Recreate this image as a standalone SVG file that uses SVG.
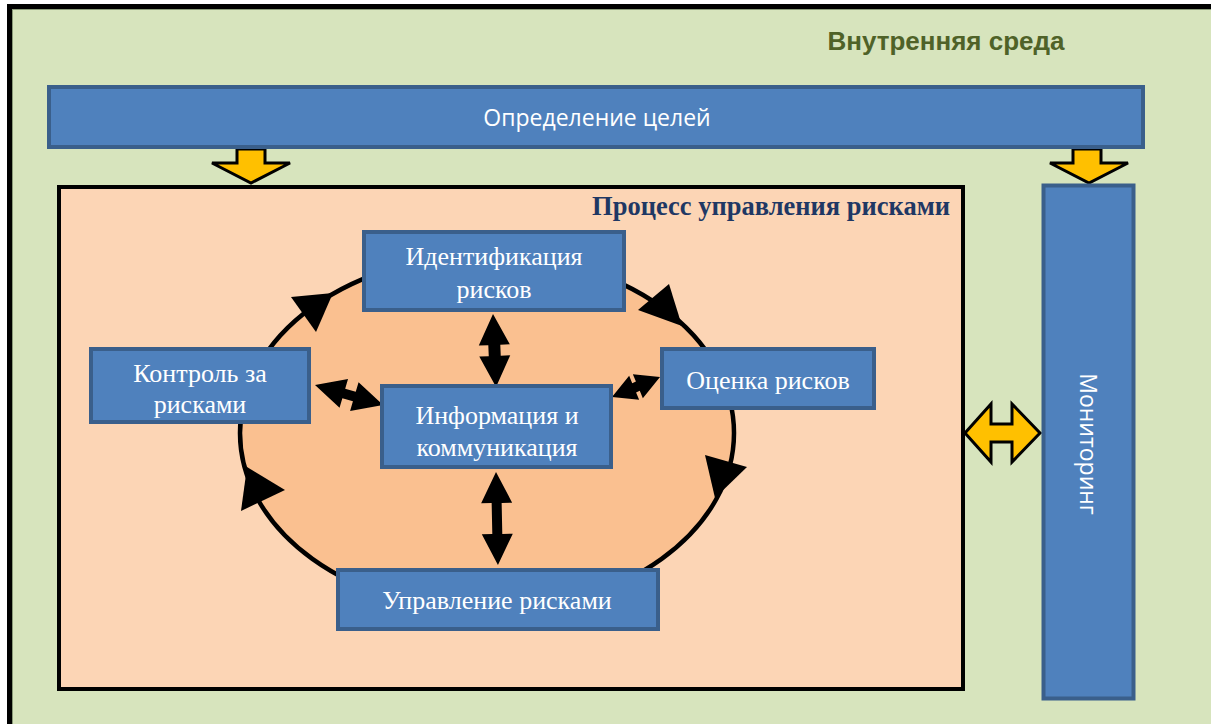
<svg xmlns="http://www.w3.org/2000/svg" width="1211" height="724" viewBox="0 0 1211 724">
<style>
.box{fill:#4F81BD;stroke:#3A5F8B;stroke-width:4}
.serif{font-family:"Liberation Serif","Times New Roman",serif;font-size:26px;fill:#fff;text-anchor:middle}
.sans{font-family:"Open Sans","Liberation Sans",Arial,sans-serif;font-size:23px;fill:#fff;text-anchor:middle}
.blk{fill:#000}
.yel{fill:#FFC000;stroke:#000;stroke-width:3;stroke-linejoin:miter}
</style>
<rect x="9.5" y="6.5" width="1225" height="740" fill="#D7E4BD" stroke="#000" stroke-width="5"/>
<rect x="12.5" y="9.5" width="1220" height="735" fill="none" stroke="#8A9A78" stroke-width="1"/>
<text x="946" y="50" font-family="Liberation Sans,Arial,sans-serif" font-size="26" font-weight="bold" fill="#4F6228" text-anchor="middle">Внутренняя среда</text>

<g id="process">
<rect x="59" y="187" width="904" height="502" fill="#FCD5B5" stroke="#000" stroke-width="4"/>
<text x="950" y="215" font-family="Liberation Serif,Times New Roman,serif" font-size="26.5" font-weight="bold" fill="#1F3864" text-anchor="end">Процесс управления рисками</text>
</g>
<g id="cycle">
<ellipse cx="487" cy="433" rx="247" ry="178" fill="#FAC090" stroke="#000" stroke-width="4.5"/>
</g>

<g id="connectors">
<polygon class="blk" points="333,293 291,297 316,332"/>
<polygon class="blk" points="682,326 638,310 669,284"/>
<polygon class="blk" points="715,498 705,455 747,467"/>
<polygon class="blk" points="247,467 285,490 241,511"/>
<polygon class="blk" transform="translate(493,314) rotate(87.6)" points="0,0 31,-15.5 31,-6 42,-6 42,-15.5 73,0 42,15.5 42,6 31,6 31,15.5"/>
<polygon class="blk" transform="translate(496,472) rotate(88.8)" points="0,0 31,-15.5 31,-5 62,-5 62,-15.5 93,0 62,15.5 62,5 31,5 31,15.5"/>
<polygon class="blk" transform="translate(315,385) rotate(16.4)" points="0,0 30,-15 30,-5 41,-5 41,-15 71,0 41,15 41,5 30,5 30,15"/>
<polygon class="blk" transform="translate(612,397) rotate(-22.6)" points="0,0 24,-13 24,-5 28,-5 28,-13 52,0 28,13 28,5 24,5 24,13"/>
<polygon class="yel" points="237,149 265,149 265,163 290,163 251,183 212,163 237,163"/>
<polygon class="yel" points="1073,149 1101,149 1101,163 1128,163 1089,183 1050,163 1073,163"/>
<polygon class="yel" points="965,433 991,404 991,424 1012,424 1012,404 1040,433 1012,462 1012,442 991,442 991,462"/>
</g>

<g id="goals">
<rect class="box" x="49" y="87" width="1094" height="60"/>
<text class="sans" x="597" y="126">Определение целей</text>
</g>
<g id="monitoring">
<rect class="box" x="1043.5" y="185.5" width="90" height="513"/>
<text class="sans" transform="translate(1080,444) rotate(90)" x="0" y="0">Мониторинг</text>
</g>
<g id="identification">
<rect class="box" x="364" y="232" width="260" height="78"/>
<text class="serif" x="494" y="265">Идентификация</text>
<text class="serif" x="494" y="298">рисков</text>
</g>
<g id="assessment">
<rect class="box" x="662" y="349" width="212" height="59"/>
<text class="serif" x="768" y="389">Оценка рисков</text>
</g>
<g id="control">
<rect class="box" x="91" y="349" width="218" height="73"/>
<text class="serif" x="200" y="382">Контроль за</text>
<text class="serif" x="200" y="413">рисками</text>
</g>
<g id="information">
<rect class="box" x="382" y="386" width="229" height="81"/>
<text class="serif" x="497" y="424">Информация и</text>
<text class="serif" x="497" y="456">коммуникация</text>
</g>
<g id="management">
<rect class="box" x="338" y="570" width="320" height="59"/>
<text class="serif" x="497" y="609">Управление рисками</text>
</g>
</svg>
